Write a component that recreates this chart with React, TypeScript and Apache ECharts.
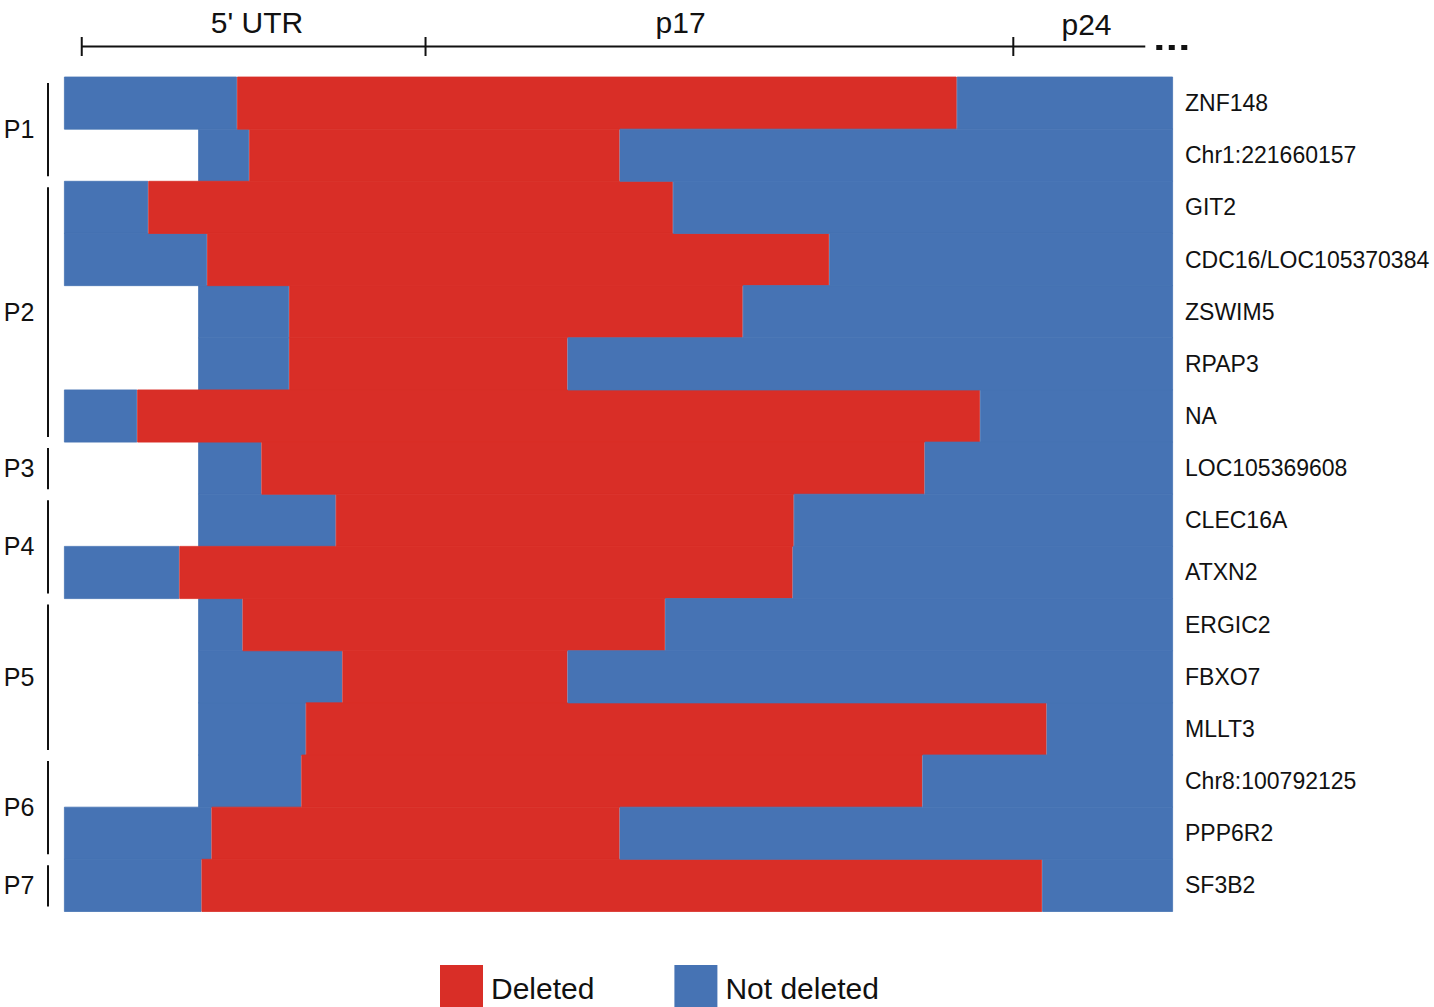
import React, { useEffect, useRef } from "react";
import * as echarts from "echarts";

// Loci, top to bottom
const genes = [
  "ZNF148",
  "Chr1:221660157",
  "GIT2",
  "CDC16/LOC105370384",
  "ZSWIM5",
  "RPAP3",
  "NA",
  "LOC105369608",
  "CLEC16A",
  "ATXN2",
  "ERGIC2",
  "FBXO7",
  "MLLT3",
  "Chr8:100792125",
  "PPP6R2",
  "SF3B2",
];

// Positions along the region (relative units, 0-1000)
const coverageStart = [0, 121, 0, 0, 121, 121, 0, 121, 121, 0, 121, 121, 121, 121, 0, 0];
const deletionStart = [156, 167, 76, 129, 203, 203, 66, 178, 245, 104, 161, 251, 218, 214, 133, 124];
const deletionEnd = [805, 501, 549, 690, 612, 454, 826, 776, 658, 657, 542, 454, 886, 774, 501, 882];
const coverageEnd = 1000;

// Patients and how many consecutive loci belong to each
const patients = ["P1", "P2", "P3", "P4", "P5", "P6", "P7"];
const patientRowCounts = [2, 5, 1, 2, 3, 2, 1];

// Region annotation above the plot
const regionBounds = [16, 326, 856, 975];
const regionNames = ["5' UTR", "p17", "p24"];
const regionLabelAt = [174, 556, 922];

const RED = "#D92E27";
const BLUE = "#4673B4";
const FONT = "'Liberation Sans', Arial, Helvetica, sans-serif";
const INK = "#111111";

export default function App() {
  const ref = useRef<HTMLDivElement>(null);

  useEffect(() => {
    if (!ref.current) return;
    const chart = echarts.init(ref.current, undefined, { renderer: "svg" });

    const leftBlue = deletionStart.map((d, i) => d - coverageStart[i]);
    const deleted = deletionEnd.map((e, i) => e - deletionStart[i]);
    const rightBlue = deletionEnd.map((e) => coverageEnd - e);

    // rows are butted together; a bar a touch taller than the band closes the seams
    const barCommon = {
      type: "bar" as const,
      stack: "row",
      barWidth: 53,
      silent: true,
    };

    chart.setOption({
      animation: false,
      textStyle: { fontFamily: FONT },
      grid: { left: 64, top: 77, width: 1109, height: 834.5, containLabel: false },
      xAxis: {
        type: "value",
        min: 0,
        max: coverageEnd,
        show: false,
      },
      yAxis: {
        type: "category",
        data: genes,
        inverse: true,
        position: "right",
        axisLine: { show: false },
        axisTick: { show: false },
        splitLine: { show: false },
        axisLabel: {
          fontSize: 23,
          color: INK,
          margin: 12,
          fontFamily: FONT,
        },
      },
      legend: {
        data: ["Deleted", "Not deleted"],
        left: 440,
        top: 965,
        padding: 0,
        itemWidth: 41,
        itemHeight: 44,
        itemGap: 80,
        icon: "rect",
        selectedMode: false,
        textStyle: { fontSize: 30, color: INK, fontFamily: FONT, padding: [0, 0, 0, 4] },
      },
      series: [
        {
          ...barCommon,
          name: "offset",
          data: coverageStart,
          itemStyle: { color: "rgba(0,0,0,0)" },
        },
        {
          ...barCommon,
          name: "Not deleted",
          data: leftBlue,
          itemStyle: { color: BLUE, borderColor: BLUE, borderWidth: 0.8 },
        },
        {
          ...barCommon,
          name: "Deleted",
          data: deleted,
          itemStyle: { color: RED, borderColor: RED, borderWidth: 0.8 },
        },
        {
          ...barCommon,
          name: "Not deleted",
          data: rightBlue,
          itemStyle: { color: BLUE, borderColor: BLUE, borderWidth: 0.8 },
        },
      ],
    });

    // Annotations placed through the chart's own scales
    const px = (v: number) => chart.convertToPixel({ xAxisIndex: 0 }, v) as number;
    const rowY = (i: number) => chart.convertToPixel({ yAxisIndex: 0 }, i) as number;
    const band = rowY(1) - rowY(0);

    const graphics: any[] = [];

    // region scale bar
    const axisY = 46.5;
    graphics.push({
      type: "line",
      shape: { x1: px(regionBounds[0]), y1: axisY, x2: px(regionBounds[regionBounds.length - 1]), y2: axisY },
      style: { stroke: INK, lineWidth: 2 },
      silent: true,
    });
    regionBounds.slice(0, -1).forEach((b) => {
      graphics.push({
        type: "line",
        shape: { x1: px(b), y1: 37, x2: px(b), y2: 56 },
        style: { stroke: INK, lineWidth: 2 },
        silent: true,
      });
    });
    regionNames.forEach((name, i) => {
      graphics.push({
        type: "text",
        x: px(regionLabelAt[i]),
        y: i === 2 ? 24 : 22,
        style: {
          text: name,
          fontSize: 30,
          fontFamily: FONT,
          fill: INK,
          align: "center",
          verticalAlign: "middle",
        },
        silent: true,
      });
    });
    const lastX = px(regionBounds[regionBounds.length - 1]);
    for (let k = 0; k < 3; k++) {
      graphics.push({
        type: "rect",
        shape: { x: lastX + 11 + k * 12.5, y: 45, width: 6, height: 5 },
        style: { fill: INK },
        silent: true,
      });
    }

    // patient brackets on the left
    let row = 0;
    patients.forEach((p, gi) => {
      const first = row;
      const last = row + patientRowCounts[gi] - 1;
      row += patientRowCounts[gi];
      const top = rowY(first) - band / 2 + 6;
      const bottom = rowY(last) + band / 2 - 5;
      graphics.push({
        type: "line",
        shape: { x1: 48, y1: top, x2: 48, y2: bottom },
        style: { stroke: INK, lineWidth: 2 },
        silent: true,
      });
      graphics.push({
        type: "text",
        x: 19,
        y: (rowY(first) + rowY(last)) / 2,
        style: {
          text: p,
          fontSize: 25,
          fontFamily: FONT,
          fill: INK,
          align: "center",
          verticalAlign: "middle",
        },
        silent: true,
      });
    });

    chart.setOption({ graphic: graphics });

    return () => chart.dispose();
  }, []);

  return (
    <div
      ref={ref}
      style={{ position: "absolute", left: 0, top: 0, width: 1434, height: 1007, background: "#fff" }}
    />
  );
}
